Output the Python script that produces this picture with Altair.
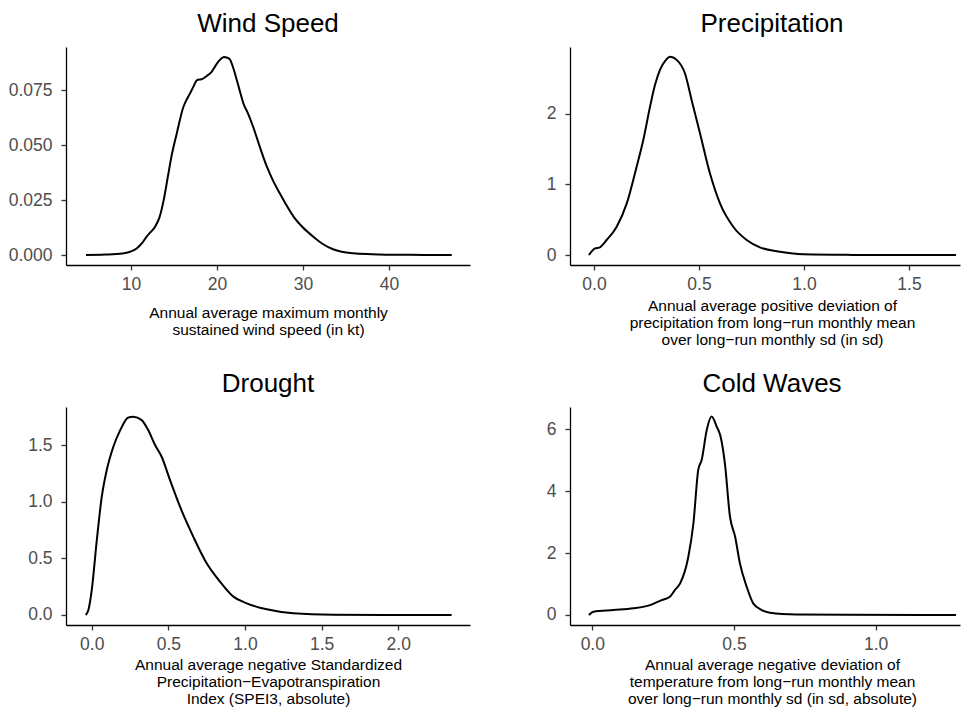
import altair as alt
import pandas as pd

FONT = "Liberation Sans"

# ---------------- data ----------------
wind_x = [4.77, 7.0, 9.0, 9.9, 10.66, 11.3, 11.8, 12.3, 12.8, 13.3, 13.8, 14.3, 14.7, 15.3,
          16.1, 16.5, 16.86, 17.3, 17.7, 18.2, 18.8, 19.4, 19.8, 20.15, 20.5, 20.8, 21.2,
          21.5, 21.9, 22.3, 22.7, 23.06, 23.6, 24.2, 25.0, 25.8, 26.5, 27.3, 28.1, 28.9,
          30.0, 31.2, 32.3, 33.5, 34.5, 35.85, 38.0, 41.3, 44.0, 47.3]
wind_d = [0.0, 0.0002, 0.0007, 0.0015, 0.003, 0.0055, 0.0083, 0.0105, 0.0129, 0.017, 0.025,
          0.036, 0.0448, 0.055, 0.0675, 0.071, 0.0736, 0.077, 0.0797, 0.080, 0.0815, 0.0835,
          0.086, 0.088, 0.0895, 0.0902, 0.0898, 0.0891, 0.085, 0.0797, 0.074, 0.0691, 0.0645,
          0.0584, 0.049, 0.0402, 0.034, 0.0281, 0.0225, 0.0175, 0.0125, 0.0083, 0.005, 0.0026,
          0.0015, 0.0008, 0.0004, 0.0001, 0.00005, 0.0]

prec_x = [-0.024, 0.005, 0.025, 0.06, 0.108, 0.156, 0.203, 0.235, 0.267, 0.29, 0.314, 0.34,
          0.362, 0.394, 0.433, 0.465, 0.505, 0.552, 0.6, 0.663, 0.727, 0.79, 0.886, 0.997,
          1.2, 1.45, 1.724]
prec_d = [0.0, 0.094, 0.105, 0.212, 0.40, 0.73, 1.25, 1.63, 2.10, 2.40, 2.62, 2.75, 2.805,
          2.76, 2.57, 2.19, 1.72, 1.155, 0.73, 0.40, 0.212, 0.108, 0.047, 0.01, 0.002,
          0.0005, 0.0]

drought_x = [-0.039, -0.022, 0.0, 0.033, 0.065, 0.098, 0.141, 0.185, 0.239, 0.271, 0.326,
             0.369, 0.413, 0.456, 0.511, 0.576, 0.663, 0.75, 0.837, 0.924, 1.011, 1.142,
             1.315, 1.576, 1.9, 2.348]
drought_d = [0.0, 0.044, 0.22, 0.66, 1.04, 1.28, 1.485, 1.63, 1.744, 1.75, 1.72, 1.63, 1.50,
             1.397, 1.19, 0.956, 0.69, 0.456, 0.294, 0.162, 0.103, 0.05, 0.015, 0.003,
             0.001, 0.0]

cold_x = [-0.012, 0.004, 0.074, 0.145, 0.204, 0.245, 0.274, 0.292, 0.31, 0.339, 0.357, 0.374,
          0.386, 0.404, 0.421, 0.439, 0.453, 0.468, 0.486, 0.504, 0.521, 0.545, 0.568, 0.598,
          0.627, 0.721, 0.898, 1.284]
cold_d = [0.0, 0.107, 0.16, 0.215, 0.32, 0.48, 0.59, 0.81, 1.02, 1.88, 2.96, 4.68, 5.0, 5.97,
          6.40, 6.08, 5.75, 4.89, 3.17, 2.53, 1.67, 0.91, 0.376, 0.16, 0.075, 0.02, 0.005, 0.0]

titles = ["Wind Speed", "Precipitation", "Drought", "Cold Waves"]
x_titles = [
    ["Annual average maximum monthly", "sustained wind speed (in kt)"],
    ["Annual average positive deviation of", "precipitation from long\u2212run monthly mean",
     "over long\u2212run monthly sd (in sd)"],
    ["Annual average negative Standardized", "Precipitation\u2212Evapotranspiration",
     "Index (SPEI3, absolute)"],
    ["Annual average negative deviation of", "temperature from long\u2212run monthly mean",
     "over long\u2212run monthly sd (in sd, absolute)"],
]
x_ticks = [[10, 20, 30, 40], [0.0, 0.5, 1.0, 1.5], [0.0, 0.5, 1.0, 1.5, 2.0], [0.0, 0.5, 1.0]]
y_ticks = [[0.0, 0.025, 0.05, 0.075], [0, 1, 2], [0.0, 0.5, 1.0, 1.5], [0, 2, 4, 6]]


def panel(xs, ds, title, xtitle, xdomain, ydomain, xt, yt, xfmt, yfmt, width, title_dx,
          title_x, title_y, anchor=False):
    df = pd.DataFrame({"x": xs, "density": ds})
    line = alt.Chart(df).mark_line(color="black", strokeWidth=2,
                                   interpolate="monotone").encode(
        x=alt.X("x:Q",
                scale=alt.Scale(domain=xdomain, nice=False, zero=False),
                axis=alt.Axis(values=xt, format=xfmt, title=xtitle, titleX=title_x,
                              titleY=title_y, titleBaseline="alphabetic", titleAlign="center",
                              labelPadding=5)),
        y=alt.Y("density:Q",
                scale=alt.Scale(domain=ydomain, nice=False, zero=False),
                axis=alt.Axis(values=yt, format=yfmt, title=None, labelPadding=9)),
    )
    layers = [line]
    if anchor:
        # invisible left-edge marker so the page starts 66 px left of this plot
        layers.append(alt.Chart(df).mark_rule(strokeWidth=0, opacity=0).encode(
            x=alt.value(-66), x2=alt.value(-66), y=alt.value(100), y2=alt.value(101)))
    return alt.layer(*layers).properties(
        width=width, height=218,
        title=alt.TitleParams(text=title, fontSize=26, font=FONT, fontWeight="normal",
                              color="black", anchor="middle", frame="group",
                              baseline="alphabetic", offset=-11, dx=title_dx),
    )


p1 = panel(wind_x, wind_d, titles[0], x_titles[0], [2.44, 49.42], [-0.00455, 0.0947],
           x_ticks[0], y_ticks[0], "d", ".3f", 404, 0, 202, 52)
p2 = panel(prec_x, prec_d, titles[1], x_titles[1], [-0.1143, 1.7429], [-0.1414, 2.942],
           x_ticks[1], y_ticks[1], ".1f", "d", 390, 7, 202, 45)
p3 = panel(drought_x, drought_d, titles[2], x_titles[2], [-0.168, 2.468], [-0.0883, 1.836],
           x_ticks[2], y_ticks[2], ".1f", ".1f", 404, 0, 202, 44, anchor=True)
p4 = panel(cold_x, cold_d, titles[3], x_titles[3], [-0.0787, 1.2979], [-0.3226, 6.71],
           x_ticks[3], y_ticks[3], ".1f", "d", 390, 7, 202, 44)

chart = alt.concat(p1, p2, p3, p4, columns=2, spacing={"row": 142, "column": 100},
                   bounds="flush").properties(
    padding={"left": 0, "top": 11, "right": 0, "bottom": 0}, background="white"
).configure_view(stroke=None).configure_axis(
    grid=False,
    domainColor="black", domainWidth=1.3,
    tickColor="#333333", tickWidth=1.3, tickSize=5,
    labelFont=FONT, labelFontSize=17.5, labelColor="#4D4D4D",
    titleFont=FONT, titleFontSize=15.5, titleFontWeight="normal", titleColor="black",
    titleLineHeight=17.3,
)

chart.save("out.html", embed_options={"renderer": "svg", "actions": False})
